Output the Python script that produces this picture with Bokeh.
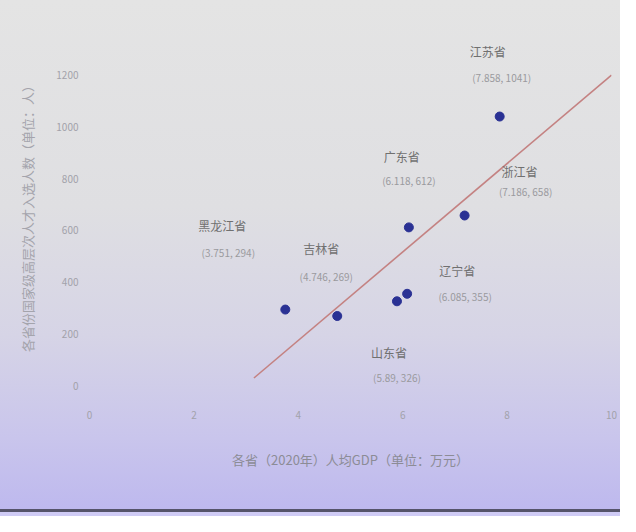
import numpy as np
from bokeh.plotting import figure
from bokeh.models import ColumnDataSource, FixedTicker
from bokeh.core.properties import value
from bokeh.embed import file_html
from bokeh.resources import INLINE

# ---- data ----
provinces = ["黑龙江省", "吉林省", "广东省", "江苏省", "浙江省", "辽宁省", "山东省"]
gdp_per_capita = [3.751, 4.746, 6.118, 7.858, 7.186, 6.085, 5.89]
talents = [294, 269, 612, 1041, 658, 355, 326]
x_ticks = [0, 2, 4, 6, 8, 10]
y_ticks = [0, 200, 400, 600, 800, 1000, 1200]
x_label = "各省（2020年）人均GDP（单位：万元）"
y_label = "各省份国家级高层次人才入选人数（单位：人）"

# label placement (screen pixel offsets relative to each point)
name_dx = [-63, -16, -7, -12, 55, 50, -8]
name_dy = [-84, -68, -71, -65, -44, -23, 51]
coord_dx = [-57, -11, 0, 2, 61, 58, 0]
coord_dy = [-57, -40, -47, -39, -24, 3, 76]

FONT = value("Noto Sans CJK SC")

coords = ["(%s, %d)" % (("%.3f" % x).rstrip("0"), y) for x, y in zip(gdp_per_capita, talents)]
src = ColumnDataSource(dict(x=gdp_per_capita, y=talents, name=provinces, coord=coords,
                            ndx=name_dx, ndy=name_dy, cdx=coord_dx, cdy=coord_dy))

p = figure(width=620, height=516, output_backend="svg", toolbar_location=None,
           x_range=(0, 10), y_range=(-58, 1374),
           min_border_left=89, min_border_right=9, min_border_top=30, min_border_bottom=116)
p.background_fill_alpha = 0
p.border_fill_alpha = 0
p.outline_line_color = None
p.styles = {"background": "linear-gradient(to bottom, #e4e4e4 0%, #dfdfe2 40%, #d6d4e6 65%, "
                          "#c9c5ec 85%, #beb9ee 98.6%, #55546a 98.7%, #55546a 99.2%, #cfcbf5 99.3%, #cfcbf5 100%)"}
p.grid.visible = False

# trend line (least squares through the data)
slope, intercept = np.polyfit(gdp_per_capita, talents, 1)
lx = np.array([3.15, 10.0])
p.line(lx, slope * lx + intercept, line_color="#c48282", line_width=1.6)

p.scatter("x", "y", source=src, size=9, fill_color="#2a3194", line_color="#2a3194")

p.text("x", "y", text="name", source=src, x_offset="ndx", y_offset="ndy",
       text_align="center", text_baseline="middle", text_font=FONT,
       text_font_size="12px", text_color="#707070")
p.text("x", "y", text="coord", source=src, x_offset="cdx", y_offset="cdy",
       text_align="center", text_baseline="middle", text_font=FONT,
       text_font_size="10px", text_color="#9a9a9e")

for ax in (p.xaxis[0], p.yaxis[0]):
    ax.axis_line_color = None
    ax.major_tick_line_color = None
    ax.minor_tick_line_color = None
    ax.major_label_text_color = "#a2a2aa"
    ax.major_label_text_font = "Noto Sans CJK SC"
    ax.major_label_text_font_size = "10px"
    ax.axis_label_text_font = "Noto Sans CJK SC"
    ax.axis_label_text_font_size = "13px"
    ax.axis_label_text_font_style = "normal"

p.xaxis.axis_label_text_color = "#8c8c96"
p.yaxis.axis_label_text_color = "#a4a4ac"
p.xaxis.ticker = FixedTicker(ticks=x_ticks)
p.yaxis.ticker = FixedTicker(ticks=y_ticks)
p.xaxis.axis_label = x_label
p.yaxis.axis_label = y_label
p.xaxis.major_label_standoff = 4
p.xaxis.axis_label_standoff = 28
p.yaxis.major_label_standoff = 5
p.yaxis.axis_label_standoff = 16

open("out.html", "w").write(file_html(p, INLINE))
